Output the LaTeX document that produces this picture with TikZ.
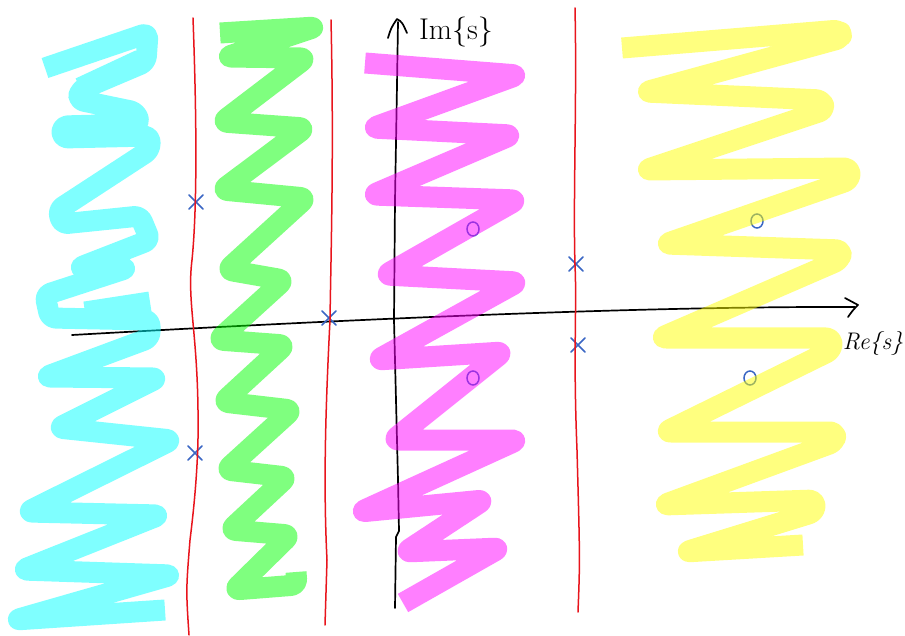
\documentclass[tikz,border=0pt]{standalone}
\usetikzlibrary{calc}
\definecolor{redline}{HTML}{E8141C}
\definecolor{bluemark}{HTML}{3A66C4}
\definecolor{cy}{RGB}{0,255,255}
\definecolor{gr}{RGB}{0,255,0}
\definecolor{mg}{RGB}{255,0,255}
\definecolor{ye}{RGB}{255,255,0}
\tikzset{
  band/.style={line width=21pt, line join=round, line cap=butt, rounded corners=6pt},
  redln/.style={draw=redline, line width=1.5pt, line cap=round, line join=round},
  axisln/.style={draw=black, line width=1.7pt, line cap=round, line join=round},
  pole/.style={draw=bluemark, line width=1.6pt, line cap=round},
  zero/.style={draw=bluemark, line width=1.5pt},
  lbl/.style={inner sep=0pt, font=\fontsize{30}{32}\selectfont}
}
\begin{document}
\begin{tikzpicture}[x=1pt,y=-1pt]
\useasboundingbox (0,0) rectangle (905,636);
\fill[white] (0,0) rectangle (905,636);

% axes
\draw[axisln] (72,335) .. controls (250,325) and (600,306) .. (855,307);
\coordinate (retip) at (858,305);
\draw[axisln] (845,298) .. controls (852,301) .. (retip) .. controls (853,310) .. (848,317);
\draw[axisln] (395,608) -- (396,537) -- (399,531) -- (398,480) -- (396,400) -- (394,320) -- (395,200) -- (397,85) -- (398,22);
\coordinate (imtip) at (397,19);
\draw[axisln] (388,38) .. controls (391,28) .. (imtip) .. controls (402,22) .. (407,33);

\node[lbl] (im) at (456,32) {Im\{s\}};
\node[lbl, font=\fontsize{24}{26}\selectfont\itshape] (re) at (873,343) {Re\{s\}};

% zeros
\draw[zero] (473,229) ellipse [x radius=6pt, y radius=7pt];
\draw[zero] (473,378) ellipse [x radius=6pt, y radius=7pt];
\draw[zero] (757,221) ellipse [x radius=6pt, y radius=7pt];
\draw[zero] (750,378) ellipse [x radius=6pt, y radius=7pt];

% poles
\coordinate (p1) at (196,202);
\coordinate (p2) at (329,318);
\coordinate (p3) at (576,264);
\coordinate (p4) at (578,345);
\coordinate (p5) at (195,453);
\foreach \n in {p1,p2,p3,p4,p5} {
  \draw[pole] (\n) ++(-7,-7) -- ++(14,14) (\n) ++(7,-7) -- ++(-14,14);
}

% red lines
\draw[redln] (193,18) .. controls (196,100) and (198,200) .. (192,260) .. controls (187,300) and (197,330) .. (198,410) .. controls (199,455) and (195,500) .. (190,540) .. controls (186,590) .. (189,635);
\draw[redln] (331,20) .. controls (334,150) and (331,250) .. (330,320) .. controls (326,400) and (323,480) .. (327,560) -- (325,625);
\draw[redln] (575,8) .. controls (577,100) and (573,200) .. (575,265) .. controls (577,310) and (573,350) .. (577,450) .. controls (580,560) .. (578,612);

% cyan band
\begin{scope}[transparency group, opacity=0.5]
\draw[band, cy] (45,68) -- (148,33) -- (146,62) -- (80,90) -- (78,100) -- (136,112) -- (140,124) -- (62,126) -- (62,138) -- (150,136) -- (150,150) -- (58,210) -- (62,224) -- (140,216) -- (150,240) -- (78,268) -- (128,268) -- (45,295) -- (50,318) -- (150,320) -- (150,338) -- (45,377) -- (158,378) -- (58,428) -- (172,440) -- (27,512) -- (160,515) -- (22,570) -- (172,575) -- (15,620) -- (165,610);
\draw[band, cy] (140,60) -- (80,88);
\draw[band, cy] (85,312) -- (150,302);
\end{scope}

% green band
\begin{scope}[transparency group, opacity=0.5]
\draw[band, gr] (220,33) -- (316,27) -- (226,57) -- (306,58) -- (222,122) -- (305,128) -- (222,190) -- (306,198) -- (227,270) -- (284,280) -- (218,340) -- (285,345) -- (223,402) -- (292,410) -- (226,470) -- (287,477) -- (230,530) -- (290,535) -- (234,590) -- (297,585) -- (296,572);
\end{scope}

% magenta band
\begin{scope}[transparency group, opacity=0.5]
\draw[band, mg] (365,63) -- (518,75) -- (372,128) -- (512,135) -- (372,195) -- (517,200) -- (385,275) -- (518,282) -- (377,360) -- (503,352) -- (393,440) -- (518,440) -- (360,512) -- (484,500) -- (405,552) -- (500,548) -- (403,603);
\end{scope}

% yellow band
\begin{scope}[transparency group, opacity=0.5]
\draw[band, ye] (622,48) -- (840,30) -- (842,38) -- (645,92) -- (822,100) -- (825,110) -- (645,170) -- (850,168) -- (850,180) -- (665,244) -- (842,250) -- (840,260) -- (660,338) -- (832,338) -- (832,350) -- (665,432) -- (836,432) -- (835,442) -- (663,505) -- (815,500) -- (815,512) -- (685,552) -- (803,545);
\end{scope}
\end{tikzpicture}
\end{document}
